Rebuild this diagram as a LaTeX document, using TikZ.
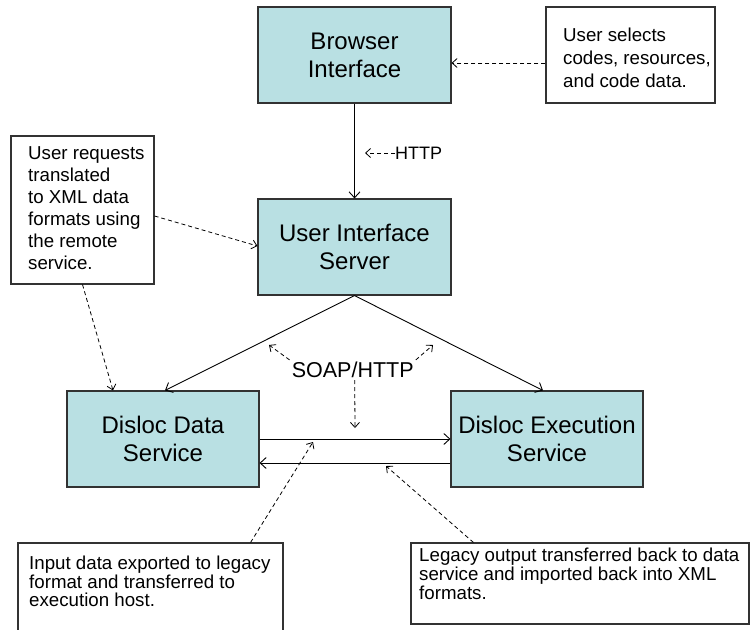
\documentclass[tikz,border=0pt]{standalone}
\usepackage{fontspec}
\setmainfont{Liberation Sans}
\usetikzlibrary{arrows.meta}
\definecolor{boxblue}{RGB}{185,224,227}
\definecolor{edge}{RGB}{50,50,50}
\begin{document}
\begin{tikzpicture}[x=1pt,y=-1pt,
  svc/.style={draw=edge, line width=1.1pt, fill=boxblue, minimum width=193pt, minimum height=96pt, inner sep=0pt, align=center, font=\fontsize{24}{28}\selectfont},
  notebox/.style={draw=edge, line width=1.1pt, fill=white, inner sep=0pt},
  notetext/.style={inner sep=0pt, align=left, anchor=north west},
  link/.style={line width=0.9pt, -{Straight Barb[length=6pt,width=11pt]}},
  hint/.style={line width=0.8pt, dash pattern=on 4pt off 3pt, -{Straight Barb[length=5pt,width=9pt]}}]
\useasboundingbox (0,0) rectangle (751,629);
\fill[white] (0,0) rectangle (751,629);
\clip (0,0) rectangle (751,629);

% service boxes
\node[svc] (browser) at (354.5,55) {Browser\\Interface};
\node[svc] (uis) at (354.5,247) {User Interface\\Server};
\node[svc, minimum width=192pt] (dds) at (163,439) {Disloc Data\\Service};
\node[svc, minimum width=192pt] (dex) at (547,439) {Disloc Execution\\Service};

% note boxes
\node[notebox, minimum width=169pt, minimum height=96pt] (selbox) at (630.5,55) {};
\node[notetext, font=\fontsize{18.7}{23}\selectfont] (seltxt) at (563,28) {User selects\\codes, resources,\\and code data.};

\node[notebox, minimum width=143pt, minimum height=148pt] (reqbox) at (82.5,210) {};
\node[notetext, font=\fontsize{18.7}{22}\selectfont] (reqtxt) at (28,146) {User requests\\translated\\to XML data\\formats using\\the remote\\service.};

\node[notebox, minimum width=265pt, minimum height=110pt] (inbox) at (150.5,598) {};
\node[notetext, font=\fontsize{18.7}{18.5}\selectfont] (intxt) at (29,556) {Input data exported to legacy\\format and transferred to\\execution host.};

\node[notebox, minimum width=338pt, minimum height=81pt] (outbox) at (580,583.5) {};
\node[notetext, font=\fontsize{18.7}{19}\selectfont] (outtxt) at (419,548) {Legacy output transferred back to data\\service and imported back into XML\\formats.};

% protocol labels
\node[inner sep=0pt, anchor=west, font=\fontsize{18}{20}\selectfont] (http) at (395,153) {HTTP};
\coordinate (httptip) at (365,153);
\node[inner sep=2pt, font=\fontsize{21.5}{24}\selectfont] (soap) at (352.7,370) {SOAP/HTTP};
\coordinate (soaptl) at (269,345);
\coordinate (soaptr) at (433,345);
\coordinate (soapdn) at (355,428);
\coordinate (intip) at (313,442);
\coordinate (outtip) at (386,466);

% solid connectors
\draw[link] (browser) -- (uis);
\draw[link] (uis.south) -- ([xshift=2pt]dds.north);
\draw[link] (uis.south) -- ([xshift=-4pt]dex.north);
\draw[link] (dds.east) -- (dex.west);
\draw[link] ([yshift=-24pt]dex.west) -- ([yshift=-24pt]dds.east);

% dashed hints
\draw[hint] ([yshift=-8pt]selbox.west) -- ([yshift=-8pt]browser.east);
\draw[hint] (http.west) -- (httptip);
\draw[hint] ([yshift=-6pt]reqbox.east) -- ([yshift=1pt]uis.west);
\draw[hint] (reqbox.south) -- ([xshift=-50pt]dds.north);
\draw[hint] (soap.north west) -- (soaptl);
\draw[hint] (soap.north east) -- (soaptr);
\draw[hint] ([xshift=2pt]soap.south) -- (soapdn);
\draw[hint] ([xshift=-33pt]inbox.north east) -- (intip);
\draw[hint] ([xshift=63pt]outbox.north west) -- (outtip);
\end{tikzpicture}
\end{document}
